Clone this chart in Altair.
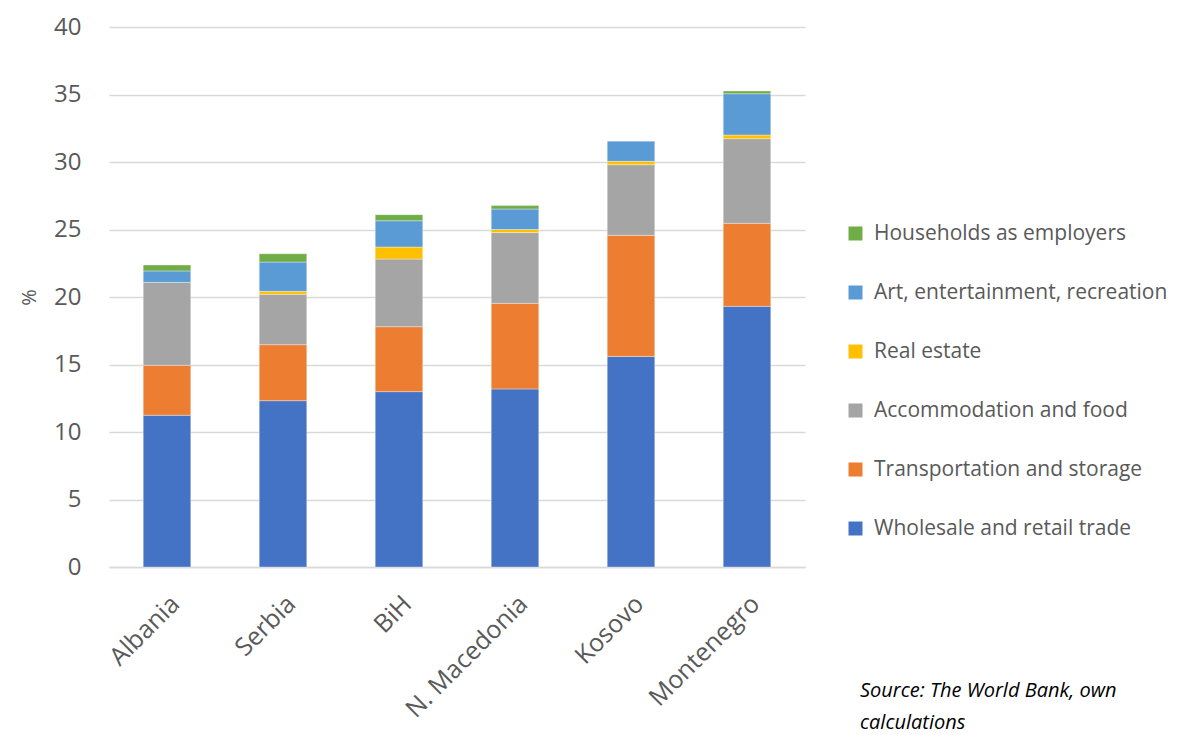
import altair as alt
import pandas as pd

countries = ["Albania", "Serbia", "BiH", "N. Macedonia", "Kosovo", "Montenegro"]
sectors = ["Wholesale and retail trade", "Transportation and storage",
           "Accommodation and food", "Real estate",
           "Art, entertainment, recreation", "Households as employers"]
colors = ["#4472C4", "#ED7D31", "#A5A5A5", "#FFC000", "#5B9BD5", "#70AD47"]

wholesale = [11.24, 12.32, 12.99, 13.19, 15.60, 19.31]
transport = [3.70, 4.15, 4.81, 6.34, 8.97, 6.15]
accommodation = [6.14, 3.73, 5.01, 5.24, 5.23, 6.27]
real_estate = [0.0, 0.22, 0.89, 0.23, 0.25, 0.27]
art = [0.85, 2.17, 1.95, 1.52, 1.51, 3.06]
households = [0.44, 0.61, 0.45, 0.25, 0.0, 0.20]

series = [wholesale, transport, accommodation, real_estate, art, households]
rows = []
for si, (name, vals) in enumerate(zip(sectors, series)):
    for c, v in zip(countries, vals):
        rows.append({"country": c, "sector": name, "value": v, "order": si})
df = pd.DataFrame(rows)

source_lines = ["Source: The World Bank, own", "calculations"]

FONT = "Open Sans"

bars = alt.Chart(df).mark_bar(stroke="white", strokeWidth=0.6, strokeOpacity=0.6).encode(
    x=alt.X("country:N", sort=countries,
            scale=alt.Scale(paddingInner=0.59, paddingOuter=0.295),
            axis=alt.Axis(title=None, labelAngle=-45, labelFontSize=25,
                          labelColor="#595959", labelFont=FONT, ticks=False,
                          domainColor="#d9d9d9", domainWidth=1.5, labelPadding=24)),
    y=alt.Y("value:Q", stack="zero",
            scale=alt.Scale(domain=[0, 40]),
            axis=alt.Axis(title="%", values=list(range(0, 45, 5)), labelFontSize=24,
                          labelColor="#595959", labelFont=FONT, ticks=False,
                          domain=False, gridColor="#d9d9d9", gridWidth=1.5,
                          titleFontSize=20, titleFont=FONT, titleColor="#595959",
                          titleFontWeight="normal", titlePadding=14, labelPadding=28)),
    color=alt.Color("sector:N", sort=sectors,
                    scale=alt.Scale(domain=sectors, range=colors),
                    legend=alt.Legend(title=None, orient="none", legendX=736, legendY=196,
                                      values=sectors[::-1], symbolType="square",
                                      symbolSize=196, symbolStrokeWidth=0,
                                      labelFontSize=21, labelFont=FONT,
                                      labelColor="#595959", rowPadding=37,
                                      labelLimit=400, symbolOffset=0, labelOffset=8)),
    order=alt.Order("order:Q", sort="ascending"),
)

src = pd.DataFrame({"line": source_lines, "i": [0, 1]})
source = alt.Chart(src).transform_calculate(ypos="664 + datum.i * 32").mark_text(
    align="left", baseline="middle", fontStyle="italic", fontSize=20,
    font=FONT, color="#000000").encode(
    x=alt.value(751),
    y=alt.Y("ypos:Q", scale=None),
    text="line:N",
)

chart = alt.layer(bars, source).properties(
    width=696, height=540,
    autosize=alt.AutoSizeParams(type="none"),
    padding={"left": 101, "top": 19, "right": 385, "bottom": 175},
).configure_view(stroke=None)

chart.save("out.html", embed_options={"renderer": "svg", "actions": False})
